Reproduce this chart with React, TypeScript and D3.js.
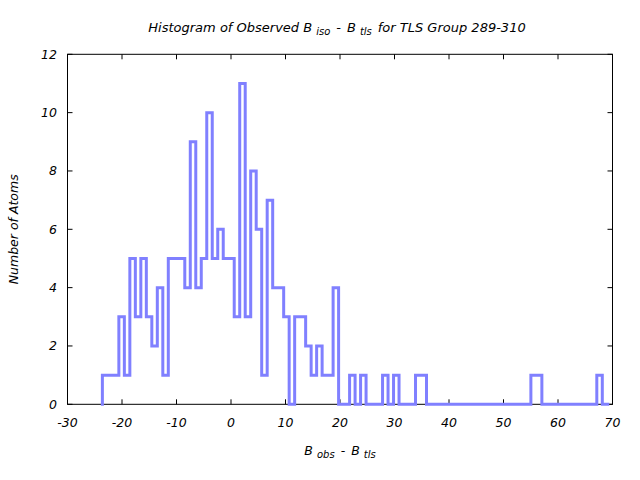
import React from "react";
import * as d3 from "d3";

// Histogram data
const binStart = -23.6;
const binWidth = 1.008;
const counts: number[] = [
  1, 1, 1, 3, 1, 5, 3, 5, 3, 2, 4, 1, 5, 5, 5, 4, 9, 4, 5, 10,
  5, 6, 5, 5, 3, 11, 3, 8, 6, 1, 7, 4, 4, 3, 0, 3, 3, 2, 1, 2,
  1, 1, 4, 0, 0, 1, 0, 1, 0, 0, 0, 1, 0, 1, 0, 0, 0, 1, 1, 0,
  0, 0, 0, 0, 0, 0, 0, 0, 0, 0, 0, 0, 0, 0, 0, 0, 0, 0, 1, 1,
  0, 0, 0, 0, 0, 0, 0, 0, 0, 0, 1, 0,
];
const xTicks = [-30, -20, -10, 0, 10, 20, 30, 40, 50, 60, 70];
const yTicks = [0, 2, 4, 6, 8, 10, 12];

const W = 640;
const H = 480;
const left = 67.5;
const right = 612.5;
const top = 54.3;
const bottom = 404.3;
const FONT = "'DejaVu Sans', Verdana, sans-serif";

export default function App() {
  const x = d3.scaleLinear().domain([-30, 70]).range([left, right]);
  const y = d3.scaleLinear().domain([0, 12]).range([bottom, top]);

  const pts: [number, number][] = [[binStart, 0]];
  counts.forEach((c, k) => {
    pts.push([binStart + k * binWidth, c]);
    pts.push([binStart + (k + 1) * binWidth, c]);
  });
  const line = d3
    .line<[number, number]>()
    .x((d) => x(d[0]))
    .y((d) => y(d[1]));

  const tickLen = 5;

  return (
    <svg
      width={W}
      height={H}
      style={{ position: "absolute", left: 0, top: 0, background: "#fff" }}
      fontFamily={FONT}
      fontStyle="italic"
    >
      <rect x={0} y={0} width={W} height={H} fill="#fff" />
      {/* frame */}
      <rect
        x={left}
        y={top}
        width={right - left}
        height={bottom - top}
        fill="none"
        stroke="#000"
        strokeWidth={1}
      />
      {/* x ticks */}
      {xTicks.map((t) => (
        <g key={"xt" + t}>
          <line x1={x(t)} x2={x(t)} y1={bottom} y2={bottom - tickLen} stroke="#000" />
          <line x1={x(t)} x2={x(t)} y1={top} y2={top + tickLen} stroke="#000" />
          <text x={x(t)} y={427} textAnchor="middle" fontSize={12.5} fill="#000">
            {t}
          </text>
        </g>
      ))}
      {/* y ticks */}
      {yTicks.map((t) => (
        <g key={"yt" + t}>
          <line x1={left} x2={left + tickLen} y1={y(t)} y2={y(t)} stroke="#000" />
          <line x1={right} x2={right - tickLen} y1={y(t)} y2={y(t)} stroke="#000" />
          <text
            x={57}
            y={y(t)}
            dy="0.36em"
            textAnchor="end"
            fontSize={12.5}
            fill="#000"
          >
            {t}
          </text>
        </g>
      ))}
      {/* histogram */}
      <path
        d={line(pts) || ""}
        fill="none"
        stroke="#8080ff"
        strokeWidth={3}
        strokeLinejoin="miter"
        strokeLinecap="square"
      />
      {/* title */}
      <text x={337} y={32} textAnchor="middle" fontSize={13} fill="#000">
        <tspan>Histogram of Observed B</tspan>
        <tspan dx={4} dy={3} fontSize={10}>iso</tspan>
        <tspan dx={6} dy={-3}>-</tspan>
        <tspan dx={6}>B</tspan>
        <tspan dx={4} dy={3} fontSize={10}>tls</tspan>
        <tspan dx={6} dy={-3}>for TLS Group 289-310</tspan>
      </text>
      {/* x label */}
      <text x={340} y={455} textAnchor="middle" fontSize={12.5} fill="#000">
        <tspan>B</tspan>
        <tspan dx={4} dy={3} fontSize={10}>obs</tspan>
        <tspan dx={6} dy={-3}>-</tspan>
        <tspan dx={6}>B</tspan>
        <tspan dx={4} dy={3} fontSize={10}>tls</tspan>
      </text>
      {/* y label */}
      <text
        transform={`translate(18,${(top + bottom) / 2}) rotate(-90)`}
        textAnchor="middle"
        fontSize={12.5}
        fill="#000"
      >
        Number of Atoms
      </text>
    </svg>
  );
}
